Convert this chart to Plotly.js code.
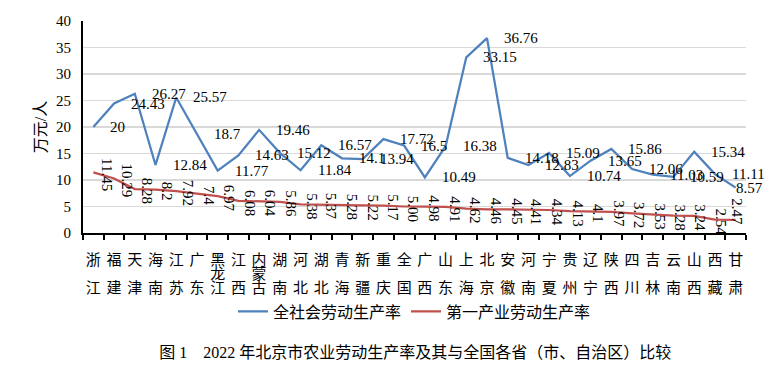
<!DOCTYPE html>
<html><head><meta charset="utf-8">
<script src="https://cdn.plot.ly/plotly-3.0.1.min.js"></script>
<style>html,body{margin:0;padding:0;background:#fff}#chart{width:772px;height:369px}</style>
</head><body><div id="chart"></div>
<script>
// ---- data ----
const provinces = ['浙江','福建','天津','海南','江苏','广东','黑龙江','江西','内蒙古','湖南','河北','湖北','青海','新疆','重庆','全国','广西','山东','上海','北京','安徽','河南','宁夏','贵州','辽宁','陕西','四川','吉林','云南','山西','西藏','甘肃'];
const allSociety = [20,24.43,26.27,12.84,25.57,18.7,11.77,14.63,19.46,15.12,11.84,16.57,14.1,13.94,17.72,16.5,10.49,16.38,33.15,36.76,14.18,12.83,15.09,10.74,13.65,15.86,12.06,11.03,10.59,15.34,11.11,8.57];
const primary = [11.45,10.29,8.28,8.2,7.92,7.4,6.97,6.08,6.04,5.86,5.38,5.37,5.28,5.22,5.17,5.00,4.98,4.91,4.62,4.46,4.45,4.41,4.34,4.13,4.1,3.97,3.72,3.53,3.28,3.24,2.54,2.47];
const seriesNames = ['全社会劳动生产率','第一产业劳动生产率'];
const yTicks = [0,5,10,15,20,25,30,35,40];
const yTitle = '万元/人';
const caption = '图\u00a01\u00a0\u00a0\u00a0\u00a02022\u00a0年北京市农业劳动生产率及其与全国各省（市、自治区）比较';

// ---- helpers ----
const serif = 'Liberation Serif, Times New Roman, serif';
const cjk = 'Liberation Serif, Noto Sans CJK SC, serif';
const sansCJK = 'Noto Sans CJK SC, sans-serif';
const BLUE = '#4f81bd', RED = '#c0504d';

function tickLabel(name){
  const chars = [...name];
  const s = c => '<span style="font-size:15px">' + c + '</span>';
  if (chars.length === 2) return s(chars[0]) + '<br> <br>' + s(chars[1]);
  return chars.map(s).join('<br>');
}
const fmtRed = v => (v === 5 ? '5.00' : String(v));

const n = provinces.length;
const annotations = [];
provinces.forEach((p, i) => {
  const last = i === n - 1;
  // data labels to the right of the 全社会 line (last one kept inside the frame)
  annotations.push({x: p, y: allSociety[i], xref: 'x', yref: 'y', text: String(allSociety[i]),
    showarrow: false, xanchor: 'left', yanchor: 'middle', xshift: last ? -2 : 15,
    font: {family: serif, size: 15, color: '#000'}});
  // rotated data labels for 第一产业 line
  annotations.push({x: p, y: primary[i], xref: 'x', yref: 'y', text: fmtRed(primary[i]),
    showarrow: false, textangle: 90, xanchor: 'center', yanchor: 'middle',
    xshift: last ? 1 : 13 - 7 * i / (n - 1), yshift: last ? 8 : -2,
    font: {family: serif, size: 15, color: '#000'}});
});

const traces = [
  {x: provinces, y: allSociety, name: seriesNames[0], type: 'scatter', mode: 'lines',
   line: {color: BLUE, width: 2.25}, hoverinfo: 'skip'},
  {x: provinces, y: primary, name: seriesNames[1], type: 'scatter', mode: 'lines',
   line: {color: RED, width: 2.25}, hoverinfo: 'skip'}
];

const layout = {
  width: 772, height: 369,
  margin: {l: 83, r: 26, t: 21, b: 136},
  paper_bgcolor: '#fff', plot_bgcolor: '#fff',
  showlegend: true,
  legend: {orientation: 'h', x: 0.5, xanchor: 'center', y: -0.37, yanchor: 'middle',
    font: {family: sansCJK, size: 16, color: '#000'}, bgcolor: 'rgba(0,0,0,0)'},
  title: {text: caption, x: 0.538, xanchor: 'center', y: 0.046, yanchor: 'middle', xref: 'container', yref: 'container',
    font: {family: cjk, size: 16, color: '#000'}},
  xaxis: {type: 'category', categoryorder: 'array', categoryarray: provinces,
    range: [-0.5, n - 0.5], fixedrange: true,
    tickmode: 'array', tickvals: provinces, ticktext: provinces.map(tickLabel),
    tickson: 'boundaries', ticks: 'outside', ticklen: 5, tickwidth: 2, tickcolor: '#000',
    showline: true, linecolor: '#000', linewidth: 2, showgrid: false, zeroline: false,
    tickangle: 0, ticklabelstandoff: 18,
    tickfont: {family: sansCJK, size: 10.4, color: '#000'}},
  yaxis: {range: [0, 40], tickmode: 'array', tickvals: yTicks, fixedrange: true,
    showline: true, linecolor: '#000', linewidth: 2, ticks: '', ticklabelstandoff: 7,
    showgrid: true, gridcolor: '#d9d9d9', gridwidth: 1.5, zeroline: false,
    tickfont: {family: serif, size: 15, color: '#000'},
    title: {text: yTitle, standoff: 5, font: {family: cjk, size: 16, color: '#000'}}},
  annotations: annotations
};

Plotly.newPlot('chart', traces, layout, {staticPlot: true, displayModeBar: false});
</script>
</body></html>
